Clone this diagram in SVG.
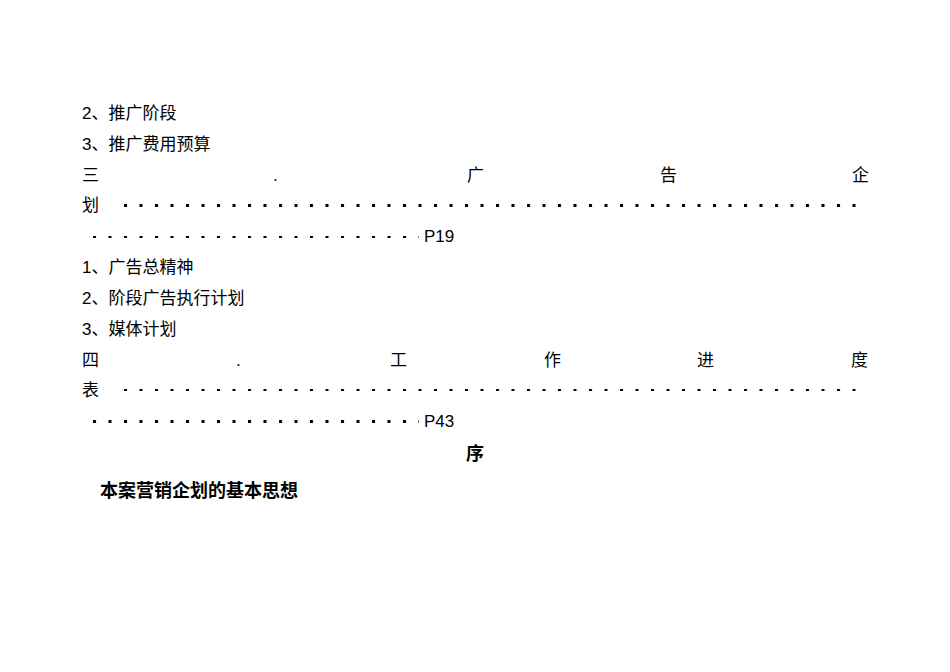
<svg xmlns="http://www.w3.org/2000/svg" width="950" height="672" viewBox="0 0 950 672">
<style>
text{font-family:"Liberation Sans","Noto Sans CJK SC",sans-serif;font-size:17px;fill:#000}
.b{font-weight:bold;font-size:18px}
</style>
<defs>
<pattern id="d" x="0" y="0" width="15.5" height="4" patternUnits="userSpaceOnUse"><rect x="0" y="0" width="3" height="3" fill="#000"/></pattern>
</defs>
<rect width="950" height="672" fill="#fff"/>
<text x="82" y="119">2、推广阶段</text>
<text x="82" y="150">3、推广费用预算</text>
<text x="82" y="181">三</text><text x="273" y="181">.</text><text x="467" y="181">广</text><text x="660" y="181">告</text><text x="852" y="181">企</text>
<text x="82" y="211">划</text>
<rect x="120" y="204" width="748" height="3" fill="url(#d)"/>
<rect x="89" y="235" width="330" height="3" fill="url(#d)"/>
<text x="424" y="242">P19</text>
<text x="82" y="273">1、广告总精神</text>
<text x="82" y="304">2、阶段广告执行计划</text>
<text x="82" y="335">3、媒体计划</text>
<text x="82" y="366">四</text><text x="236" y="366">.</text><text x="390" y="366">工</text><text x="544" y="366">作</text><text x="697" y="366">进</text><text x="851" y="366">度</text>
<text x="82" y="396">表</text>
<rect x="120" y="389" width="748" height="3" fill="url(#d)"/>
<rect x="89" y="420" width="330" height="3" fill="url(#d)"/>
<text x="424" y="427">P43</text>
<text x="466" y="460" class="b">序</text>
<text x="100" y="497" class="b">本案营销企划的基本思想</text>
</svg>
